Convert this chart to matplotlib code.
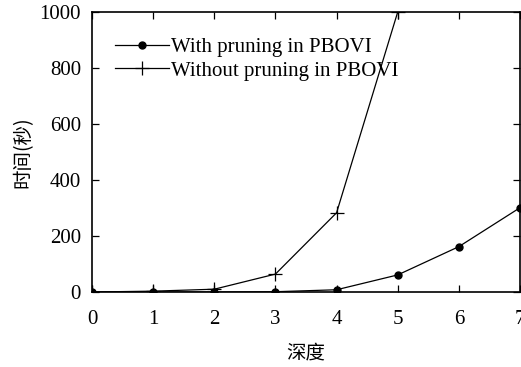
import matplotlib
matplotlib.use('Agg')
import matplotlib.pyplot as plt

depth = [0, 1, 2, 3, 4, 5, 6, 7]
with_pruning = [0, 0, 0, 1, 8, 61, 162, 301]
without_depth = [0, 1, 2, 3, 4, 5]
without_pruning = [0, 3, 10, 64, 283, 1000]

serif = ['Liberation Serif', 'DejaVu Serif']
cjk = ['Noto Sans CJK SC', 'DejaVu Sans']

fig = plt.figure(figsize=(5.21, 3.67), dpi=100)
ax = fig.add_axes([92 / 521, 75 / 367, 428 / 521, 280 / 367])

ax.plot(depth, with_pruning, color='black', lw=0.9, marker='o', ms=5,
        label='With pruning in PBOVI')
ax.plot(without_depth, without_pruning, color='black', lw=0.9, marker='+', ms=10,
        mew=0.9, label='Without pruning in PBOVI')

ax.set_xlim(0, 7)
ax.set_ylim(0, 1000)
ax.set_xticks(depth)
ax.set_yticks([0, 200, 400, 600, 800, 1000])
ax.tick_params(direction='in', top=True, right=True, length=5, width=0.9,
               labelsize=15)
ax.tick_params(axis='x', pad=13)
ax.tick_params(axis='y', pad=8)
for lab in ax.get_xticklabels() + ax.get_yticklabels():
    lab.set_family(serif)
for s in ax.spines.values():
    s.set_linewidth(1.2)

ax.set_xlabel('深度', family=cjk, fontsize=14, labelpad=10)
ax.set_ylabel('时间(秒)', family=cjk, fontsize=14, labelpad=4)

leg = ax.legend(loc='upper left', frameon=False, prop={'family': serif, 'size': 15},
                handlelength=2.6, handletextpad=0.1, labelspacing=0.2,
                bbox_to_anchor=(0.034, 0.939), borderaxespad=0)

fig.savefig('out.png', dpi=100)
